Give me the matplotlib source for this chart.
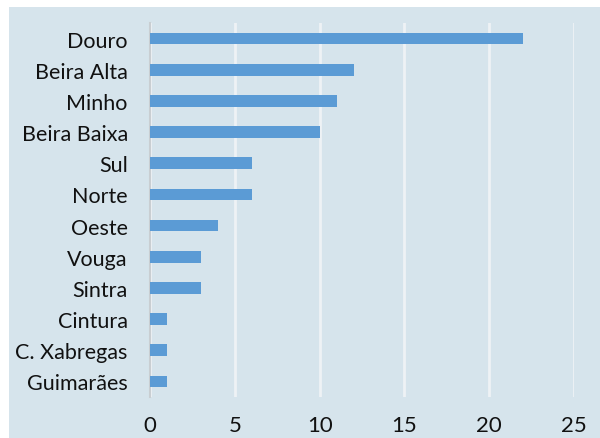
import matplotlib.pyplot as plt
from matplotlib.patches import Rectangle

# data, top to bottom as in the chart
regions = ['Douro', 'Beira Alta', 'Minho', 'Beira Baixa', 'Sul', 'Norte',
           'Oeste', 'Vouga', 'Sintra', 'Cintura', 'C. Xabregas', 'Guimarães']
counts = [22, 12, 11, 10, 6, 6, 4, 3, 3, 1, 1, 1]
xticks = [0, 5, 10, 15, 20, 25]

bg = '#D6E4EC'
bar_color = '#5B9BD5'

plt.rcParams['font.family'] = ['Lato', 'DejaVu Sans']

fig = plt.figure(figsize=(6, 4.39), dpi=100)
fig.patch.set_facecolor('white')
# light panel behind everything (white strip on top and left)
fig.patches.append(Rectangle((9 / 600, 0), 1 - 9 / 600, 1 - 8 / 439,
                             transform=fig.transFigure, facecolor=bg,
                             edgecolor='none', zorder=-10))

ax = fig.add_axes([150 / 600, 1 - 398 / 439, 424 / 600, 374 / 439])
ax.set_facecolor(bg)

y = list(range(len(regions)))
ax.barh(y, counts, height=0.37, color=bar_color, zorder=3)
ax.set_yticks(y)
ax.set_yticklabels(regions, fontsize=15.5, color='#111111')
ax.set_ylim(len(regions) - 0.5, -0.5)

ax.set_xlim(0, 25)
ax.set_xticks(xticks)
ax.set_xticklabels([str(t) for t in xticks], fontsize=16, color='#111111')

ax.grid(axis='x', color='#EEF2F5', linewidth=2, zorder=1)
for s in ['top', 'right', 'bottom']:
    ax.spines[s].set_visible(False)
ax.spines['left'].set_color('#C9CED2')
ax.spines['left'].set_linewidth(1.5)
ax.tick_params(axis='both', length=0)
ax.tick_params(axis='y', pad=16)
ax.tick_params(axis='x', pad=13)

fig.savefig('out.png', dpi=100, facecolor=fig.get_facecolor())
